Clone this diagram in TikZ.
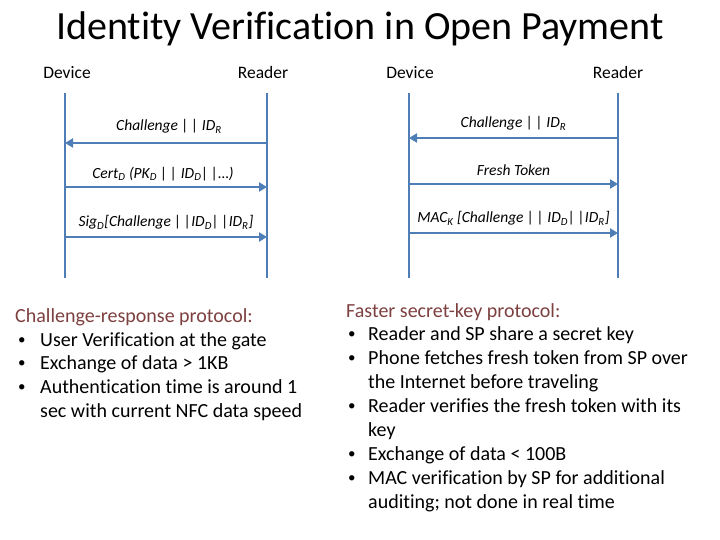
\documentclass[tikz,border=0pt]{standalone}
\usepackage{fontspec}
\setmainfont{Carlito}[Ligatures=NoCommon]
\usetikzlibrary{arrows.meta}
\usetikzlibrary{positioning}
\definecolor{lineblue}{HTML}{4F7DB5}
\definecolor{headred}{HTML}{7D3F3F}
\newcommand{\sbs}[1]{\textsubscript{#1}}
\newcommand{\dbar}{|\,|}

\begin{document}
\begin{tikzpicture}[x=1pt,y=-1pt,
        life/.style={draw=lineblue, line width=2.8pt},
        msg/.style={draw=lineblue, line width=2.8pt,
                    -{Triangle[length=8pt,width=9pt]}},
        role/.style={font=\fontsize{17.5}{21}\selectfont, anchor=base},
        lbl/.style={font=\fontsize{15.5}{18}\selectfont\itshape, inner sep=0pt},
        head/.style={font=\fontsize{20}{24}\selectfont, text=headred,
                     anchor=base west, inner sep=0pt},
        item/.style={font=\fontsize{20}{24}\selectfont,
                     anchor=base west, inner sep=0pt},
        dot/.style={font=\fontsize{15}{18}\selectfont,
                    anchor=base west, inner sep=0pt}
                            ]
        \useasboundingbox (0,0) rectangle (720,540);
        % title
        \node (title) at (360,29) {\fontsize{40}{48}\selectfont Identity Verification in Open Payment};
        % left protocol
        \node[role] (devL) at (67,79) {Device};
        \node[role] (rdrL) at (263,79) {Reader};
        \coordinate (devLtop) at (65,93);
        \coordinate (devLbot) at (65,278);
        \coordinate (rdrLtop) at (267,93);
        \coordinate (rdrLbot) at (267,278);
        \draw[life] (devLtop) -- (devLbot);
        \draw[life] (rdrLtop) -- (rdrLbot);
        \coordinate (l1d) at (65,143);  \coordinate (l1r) at (267,143);
        \coordinate (l2d) at (65,187);  \coordinate (l2r) at (267,187);
        \coordinate (l3d) at (65,237);  \coordinate (l3r) at (267,237);
        \draw[msg] (l1r) -- (l1d) node[lbl, midway, above=8pt, xshift=3pt] (l1) {Challenge \dbar{} ID\sbs{R}};
        \draw[msg] (l2d) -- (l2r) node[lbl, midway, above=5pt, xshift=-3pt] (l2) {Cert\sbs{D} (PK\sbs{D} \dbar{} ID\sbs{D}\dbar…)};
        \draw[msg] (l3d) -- (l3r) node[lbl, midway, above=6pt] (l3) {Sig\sbs{D}[Challenge \dbar ID\sbs{D}\dbar ID\sbs{R}]};
        % right protocol
        \node[role] (devR) at (410,79) {Device};
        \node[role] (rdrR) at (618,79) {Reader};
        \coordinate (devRtop) at (409,93);
        \coordinate (devRbot) at (409,278);
        \coordinate (rdrRtop) at (618,93);
        \coordinate (rdrRbot) at (618,278);
        \draw[life] (devRtop) -- (devRbot);
        \draw[life] (rdrRtop) -- (rdrRbot);
        \coordinate (r1d) at (409,138);  \coordinate (r1r) at (618,138);
        \coordinate (r2d) at (409,184);  \coordinate (r2r) at (618,184);
        \coordinate (r3d) at (409,233);  \coordinate (r3r) at (618,233);
        \draw[msg] (r1r) -- (r1d) node[lbl, midway, above=6pt] (r1) {Challenge \dbar{} ID\sbs{R}};
        \draw[msg] (r2d) -- (r2r) node[lbl, midway, above=7pt] (r2) {Fresh Token};
        \draw[msg] (r3d) -- (r3r) node[lbl, midway, above=6pt] (r3) {MAC\sbs{K} [Challenge \dbar{} ID\sbs{D}\dbar ID\sbs{R}]};
        % left notes
        \node[head] (hL) at (15,322) {Challenge-response protocol:};
        \node[dot] (bL1) at (18,344) {•};
        \node[item] (tL1) at (40,346) {User Verification at the gate};
        \node[dot] (bL2) at (18,367) {•};
        \node[item] (tL2) at (40,369) {Exchange of data > 1KB};
        \node[dot] (bL3) at (18,391) {•};
        \node[item] (tL3) at (40,393) {Authentication time is around 1};
        \node[item] (tL4) at (40,417) {sec with current NFC data speed};
        % right notes
        \node[head] (hR) at (346,317) {Faster secret-key protocol:};
        \node[dot] (bR1) at (348,338) {•};
        \node[item] (tR1) at (368,340) {Reader and SP share a secret key};
        \node[dot] (bR2) at (348,362) {•};
        \node[item] (tR2) at (368,364) {Phone fetches fresh token from SP over};
        \node[item] (tR3) at (368,388) {the Internet before traveling};
        \node[dot] (bR3) at (348,410) {•};
        \node[item] (tR4) at (368,412) {Reader verifies the fresh token with its};
        \node[item] (tR5) at (368,436) {key};
        \node[dot] (bR4) at (348,458) {•};
        \node[item] (tR6) at (368,460) {Exchange of data < 100B};
        \node[dot] (bR5) at (348,482) {•};
        \node[item] (tR7) at (368,484) {MAC verification by SP for additional};
        \node[item] (tR8) at (368,508) {auditing; not done in real time};
    \end{tikzpicture}
\end{document}
